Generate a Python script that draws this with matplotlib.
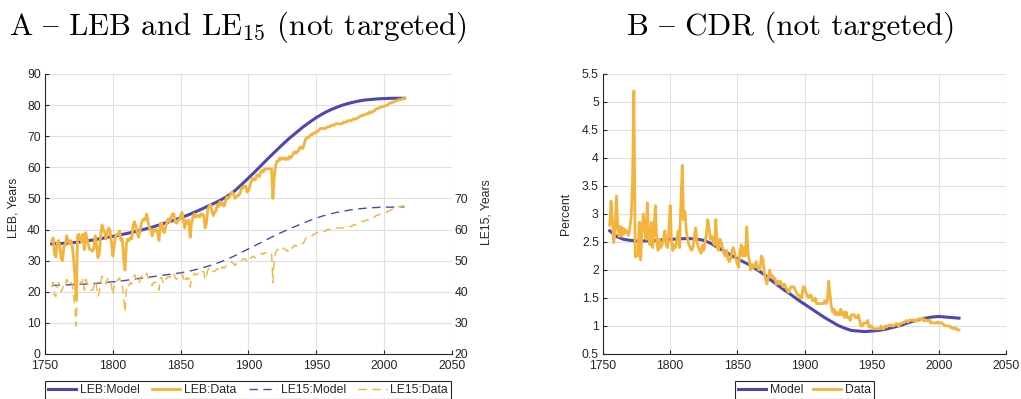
import numpy as np
import matplotlib
matplotlib.use('Agg')
import matplotlib.pyplot as plt
from matplotlib import font_manager, ft2font

plt.rcParams['font.family'] = ['Liberation Sans', 'DejaVu Sans']
plt.rcParams['mathtext.fontset'] = 'cm'

# ---------------- data ----------------
years = np.arange(1755, 2016)
model_years = np.arange(1755, 2016, 5)

leb_model = [35.4, 35.5, 35.6, 35.8, 36.0, 36.3, 36.6, 37.0, 37.4,
             37.8, 38.3, 38.7, 39.2, 39.7, 40.3, 40.9, 41.6, 42.3, 43.0,
             43.8, 44.6, 45.5, 46.5, 47.5, 48.5, 49.6, 50.9, 52.5, 54.5,
             56.6, 58.7, 60.9, 63.1, 65.2, 67.3, 69.3, 71.1, 72.9, 74.5,
             76.0, 77.3, 78.4, 79.3, 80.1, 80.7, 81.2, 81.6, 81.8, 82.0,
             82.1, 82.2, 82.2, 82.2]

leb_data = [36.2, 37.3, 32.0, 31.2, 35.5,
            36.5, 34.5, 30.5, 30.0, 35.0, 35.0, 38.0, 36.5, 35.5, 36.5,
            35.0, 31.0, 25.0, 17.3, 38.0, 38.5, 37.0, 36.0, 38.5, 33.5,
            39.0, 37.0, 35.0, 33.5, 33.5, 33.0, 34.0, 38.0, 35.0, 31.0,
            32.0, 38.0, 41.5, 40.0, 39.0, 37.0, 39.5, 40.5, 39.5, 36.0,
            31.5, 35.0, 38.0, 38.5, 38.5, 39.5, 36.5, 37.0, 30.5, 27.0,
            35.5, 37.0, 36.5, 37.5, 37.0, 41.5, 42.5, 41.0, 39.0, 37.5,
            39.5, 42.0, 43.0, 43.5, 43.0, 45.0, 42.5, 40.5, 40.0, 38.0,
            40.0, 39.5, 40.0, 39.0, 36.5, 42.0, 42.0, 39.5, 39.0, 41.0,
            42.5, 43.5, 42.5, 44.0, 45.0, 45.0, 42.5, 42.0, 43.0, 43.0,
            44.5, 45.5, 43.0, 40.5, 43.0, 42.0, 43.0, 37.5, 42.0, 44.0,
            45.0, 44.0, 44.5, 44.5, 44.0, 45.0, 45.0, 44.5, 40.5, 42.0,
            46.5, 47.5, 48.0, 46.0, 44.5, 45.5, 46.0, 48.0, 47.5, 49.0,
            48.0, 48.5, 47.5, 49.0, 50.5, 50.0, 50.5, 51.5, 52.0, 51.5,
            50.0, 50.5, 51.0, 51.0, 52.0, 53.5, 53.5, 54.0, 54.0, 52.0,
            52.5, 54.0, 55.5, 56.5, 56.0, 56.0, 57.5, 57.5, 57.0, 58.5,
            59.0, 58.5, 59.5, 59.5, 59.5, 59.5, 59.5, 59.5, 50.0, 57.0,
            60.5, 62.0, 62.0, 63.0, 62.5, 63.0, 63.0, 62.5, 63.0, 62.5,
            63.5, 63.0, 63.5, 64.5, 65.0, 64.5, 65.0, 65.5, 66.5, 66.5,
            66.0, 67.5, 69.0, 69.5, 69.5, 70.0, 70.5, 70.5, 71.0, 71.0,
            71.5, 71.5, 72.0, 72.5, 72.5, 72.5, 72.5, 72.5, 73.0, 73.0,
            73.0, 73.5, 73.5, 73.5, 74.0, 74.0, 74.0, 74.0, 74.0, 74.0,
            74.5, 74.5, 74.5, 75.0, 75.0, 75.0, 75.0, 75.5, 75.5, 75.5,
            75.8, 76.0, 76.3, 76.6, 76.8, 76.7, 77.0, 77.2, 77.1, 77.7,
            77.6, 77.7, 78.1, 78.2, 78.8, 78.9, 79.0, 79.3, 79.4, 79.5,
            79.7, 79.8, 79.9, 80.2, 80.6, 80.7, 80.9, 81.0, 81.3, 81.4,
            81.6, 81.8, 81.7, 81.9, 82.2, 82.1]

le15_model = [42.0, 42.1, 42.2, 42.3, 42.4, 42.5, 42.6, 42.8, 43.0,
              43.2, 43.4, 43.7, 44.0, 44.3, 44.6, 44.9, 45.2, 45.5, 45.8,
              46.1, 46.5, 47.0, 47.6, 48.2, 48.9, 49.7, 50.6, 51.6, 52.7,
              53.8, 54.9, 56.0, 57.1, 58.2, 59.2, 60.2, 61.1, 62.0, 62.9,
              63.7, 64.4, 65.0, 65.5, 65.9, 66.3, 66.6, 66.8, 67.0, 67.1,
              67.2, 67.2, 67.3, 67.3]

le15_data = [41.5, 43.0, 39.0, 38.5, 41.5,
             43.0, 42.0, 40.0, 41.0, 42.5, 42.0, 44.0, 43.0, 42.0, 43.0,
             42.5, 39.0, 35.0, 29.0, 43.5, 44.5, 43.0, 42.5, 44.0, 40.5,
             44.0, 43.0, 42.0, 41.0, 40.5, 40.5, 41.5, 43.5, 42.0, 38.5,
             39.5, 43.0, 45.0, 44.0, 43.5, 42.5, 44.0, 44.5, 44.0, 42.0,
             39.0, 41.5, 43.5, 43.5, 44.0, 44.5, 42.5, 42.5, 38.0, 33.5,
             41.0, 42.5, 42.0, 43.0, 42.5, 44.5, 45.5, 44.5, 43.5, 42.5,
             43.5, 45.0, 45.0, 45.5, 45.0, 46.0, 44.5, 43.5, 43.0, 42.0,
             43.0, 43.0, 43.0, 42.0, 40.5, 44.5, 44.5, 43.0, 42.5, 44.0,
             44.5, 45.0, 44.5, 45.5, 46.0, 46.0, 44.5, 44.0, 44.5, 44.5,
             45.5, 46.0, 44.5, 43.0, 44.5, 44.0, 44.5, 41.5, 44.0, 45.0,
             46.0, 45.5, 45.5, 46.0, 45.5, 46.0, 46.5, 46.5, 44.0, 45.0,
             47.0, 47.5, 48.0, 47.0, 46.5, 46.5, 47.0, 47.5, 47.0, 48.0,
             47.5, 48.0, 47.5, 48.0, 48.5, 48.5, 49.0, 49.5, 49.5, 49.0,
             48.5, 49.0, 49.0, 49.5, 49.5, 50.0, 50.5, 50.5, 50.5, 49.5,
             49.5, 50.5, 51.0, 51.5, 51.0, 51.0, 51.5, 51.5, 51.5, 52.0,
             52.5, 52.0, 52.5, 52.5, 52.5, 52.5, 52.5, 52.5, 43.0, 50.5,
             52.5, 53.5, 53.5, 54.0, 53.5, 54.0, 54.0, 53.5, 53.5, 53.0,
             54.0, 53.5, 54.0, 54.5, 55.0, 54.5, 55.0, 55.0, 55.5, 55.5,
             55.5, 56.0, 57.0, 57.5, 57.5, 58.0, 58.0, 58.0, 58.5, 58.5,
             59.0, 59.0, 59.5, 59.5, 59.5, 59.5, 59.5, 59.5, 60.0, 60.0,
             60.0, 60.0, 60.0, 60.0, 60.5, 60.5, 60.5, 60.5, 60.5, 60.5,
             60.5, 60.5, 61.0, 61.0, 61.0, 61.0, 61.0, 61.5, 61.5, 61.5,
             61.8, 62.0, 62.2, 62.5, 62.7, 62.6, 62.9, 63.1, 63.0, 63.5,
             63.4, 63.5, 63.9, 64.0, 64.5, 64.6, 64.7, 65.0, 65.1, 65.2,
             65.4, 65.5, 65.6, 65.9, 66.2, 66.3, 66.5, 66.6, 66.9, 67.0,
             67.2, 67.4, 67.3, 67.5, 67.6, 67.4]

cdr_model = [2.70, 2.60, 2.55, 2.53, 2.52, 2.52, 2.52, 2.53, 2.54,
             2.55, 2.55, 2.56, 2.56, 2.55, 2.53, 2.48, 2.41, 2.34, 2.27,
             2.20, 2.14, 2.08, 2.00, 1.92, 1.82, 1.73, 1.64, 1.56, 1.47,
             1.39, 1.31, 1.23, 1.15, 1.08, 1.01, 0.96, 0.92, 0.91, 0.90,
             0.91, 0.92, 0.94, 0.97, 1.00, 1.04, 1.08, 1.11, 1.14, 1.16,
             1.17, 1.16, 1.15, 1.14]

cdr_data = [2.80, 3.23, 2.90, 2.49, 2.70,
            3.32, 2.78, 2.60, 2.78, 2.60, 2.75, 2.65, 2.72, 2.68, 2.62,
            2.76, 2.95, 3.60, 5.20, 2.23, 2.30, 2.25, 2.85, 2.18, 2.70,
            3.00, 2.75, 2.55, 3.20, 2.55, 2.45, 2.85, 2.40, 2.75, 3.15,
            2.50, 2.35, 2.55, 2.40, 2.45, 2.55, 2.70, 2.45, 2.40, 2.70,
            3.15, 2.50, 2.35, 2.45, 2.40, 2.55, 2.70, 2.40, 3.20, 3.87,
            2.90, 3.05, 2.70, 2.55, 2.45, 2.40, 2.35, 2.40, 2.60, 2.75,
            2.50, 2.40, 2.35, 2.30, 2.45, 2.35, 2.50, 2.65, 2.90, 2.75,
            2.55, 2.60, 2.50, 2.45, 2.90, 2.40, 2.35, 2.55, 2.50, 2.40,
            2.30, 2.25, 2.35, 2.20, 2.15, 2.20, 2.35, 2.40, 2.30, 2.20,
            2.10, 2.05, 2.35, 2.45, 2.25, 2.40, 2.25, 2.77, 2.30, 2.15,
            2.00, 2.10, 2.05, 2.05, 2.15, 2.05, 2.00, 2.05, 2.25, 2.20,
            1.95, 1.85, 1.75, 1.85, 2.00, 1.90, 1.90, 1.85, 1.85, 1.75,
            1.80, 1.75, 1.80, 1.75, 1.70, 1.75, 1.70, 1.65, 1.60, 1.65,
            1.70, 1.70, 1.70, 1.65, 1.60, 1.55, 1.55, 1.50, 1.50, 1.70,
            1.70, 1.60, 1.55, 1.50, 1.55, 1.55, 1.45, 1.45, 1.50, 1.40,
            1.40, 1.40, 1.40, 1.40, 1.40, 1.45, 1.40, 1.45, 1.80, 1.55,
            1.35, 1.25, 1.30, 1.20, 1.25, 1.20, 1.20, 1.30, 1.20, 1.25,
            1.15, 1.25, 1.15, 1.15, 1.10, 1.20, 1.20, 1.20, 1.15, 1.15,
            1.20, 1.10, 1.00, 1.00, 1.05, 1.05, 1.05, 1.10, 0.98, 1.00,
            1.00, 0.95, 0.95, 0.95, 0.95, 0.95, 0.95, 1.00, 0.95, 0.95,
            1.00, 0.98, 1.00, 1.02, 1.00, 1.02, 1.00, 1.01, 1.04, 1.04,
            0.99, 1.04, 1.04, 1.06, 1.06, 1.08, 1.10, 1.07, 1.10, 1.11,
            1.10, 1.11, 1.09, 1.10, 1.09, 1.13, 1.12, 1.11, 1.15, 1.09,
            1.11, 1.10, 1.09, 1.11, 1.05, 1.06, 1.06, 1.05, 1.05, 1.07,
            1.05, 1.05, 1.06, 1.04, 1.01, 1.01, 1.00, 1.00, 1.00, 0.97,
            0.97, 0.95, 0.97, 0.95, 0.93, 0.93]

xticks = list(range(1750, 2051, 50))
leb_ticks = list(range(0, 91, 10))
le15_ticks = list(range(20, 71, 10))
cdr_ticks = [0.5, 1, 1.5, 2, 2.5, 3, 3.5, 4, 4.5, 5, 5.5]
cdr_ticklabels = ['0.5', '1', '1.5', '2', '2.5', '3', '3.5', '4', '4.5', '5', '5.5']

# ---------------- style ----------------
BLUE = '#4b48b4'
ORANGE = '#f4b43c'
TXT = '#262626'
GRID = '#e0e0e0'
FS = 8.8
W, H = 1021, 399


def find_cm_endash():
    """Locate the en-dash glyph in cmr10 by its shape (thin bar ~0.5 em)."""
    try:
        path = font_manager.findfont('cmr10')
        f = ft2font.FT2Font(path)
        f.set_size(100, 72)
        cmap = f.get_charmap()
        gx = f.load_char(ord('x'))
        xh = gx.bbox[3] - gx.bbox[1]
        best = None
        for code in sorted(cmap):
            g = f.load_char(code)
            w = g.bbox[2] - g.bbox[0]
            h = g.bbox[3] - g.bbox[1]
            if 0 < h < 0.2 * xh and 0.9 * xh < w < 1.45 * xh and g.bbox[1] > 0:
                if best is None or abs(w - 1.16 * xh) < best[0]:
                    best = (abs(w - 1.16 * xh), code)
        if best is not None:
            return chr(best[1])
    except Exception:
        pass
    return '-'


dash = find_cm_endash()

fig = plt.figure(figsize=(W / 100, H / 100), dpi=100)
axA = fig.add_axes([45 / W, 1 - 354 / H, 407 / W, 280 / H])
axB = fig.add_axes([603 / W, 1 - 354 / H, 403 / W, 280 / H])


def style(ax):
    ax.set_xlim(1750, 2050)
    ax.set_xticks(xticks)
    ax.grid(True, color=GRID, lw=0.8)
    ax.set_axisbelow(True)
    for s in ['top', 'right']:
        ax.spines[s].set_visible(False)
    for s in ['left', 'bottom']:
        ax.spines[s].set_color(TXT)
        ax.spines[s].set_linewidth(0.8)
    ax.tick_params(direction='in', length=3, width=0.8, colors=TXT,
                   labelsize=FS, pad=3)
    ax.tick_params(axis='x', pad=4.5)


# ---- Panel A ----
style(axA)
axA.set_ylim(0, 90)
axA.set_yticks(leb_ticks)
hA1, = axA.plot(model_years, leb_model, color=BLUE, lw=2.2, label='LEB:Model')
hA2, = axA.plot(years, leb_data, color=ORANGE, lw=2.0, label='LEB:Data')
axA.set_ylabel('LEB, Years', fontsize=FS, color=TXT)
axA.yaxis.set_label_coords(-0.062, 0.523)

axA2 = axA.twinx()
axA2.set_ylim(20, 110)
axA2.set_yticks(le15_ticks)
for s in axA2.spines.values():
    s.set_visible(False)
axA2.tick_params(axis='y', length=0, colors=TXT, labelsize=FS, pad=2)
hA3, = axA2.plot(model_years, le15_model, color=BLUE, lw=1.0,
                 dashes=(6, 4), label='LE15:Model')
hA4, = axA2.plot(years, le15_data, color=ORANGE, lw=1.0,
                 dashes=(6, 4), label='LE15:Data')
axA2.set_ylabel('LE15, Years', fontsize=FS, color=TXT)
axA2.yaxis.set_label_coords(1.069, 0.507)

legA = fig.legend([hA1, hA2, hA3, hA4],
                  ['LEB:Model', 'LEB:Data', 'LE15:Model', 'LE15:Data'],
                  loc='upper left', bbox_to_anchor=(45 / W, 0, 406 / W, 1 - 381 / H),
                  mode='expand', ncol=4, fontsize=FS, frameon=True,
                  fancybox=False, edgecolor=TXT, framealpha=1,
                  handlelength=2.3, borderaxespad=0, borderpad=0.25,
                  handletextpad=0.3, columnspacing=0.8)
legA.get_frame().set_linewidth(0.8)
for t in legA.get_texts():
    t.set_color(TXT)

# ---- Panel B ----
style(axB)
axB.set_ylim(0.5, 5.5)
axB.set_yticks(cdr_ticks)
axB.set_yticklabels(cdr_ticklabels)
hB1, = axB.plot(model_years, cdr_model, color=BLUE, lw=2.2, label='Model')
hB2, = axB.plot(years, cdr_data, color=ORANGE, lw=2.0, label='Data')
axB.set_ylabel('Percent', fontsize=FS, color=TXT)
axB.yaxis.set_label_coords(-0.077, 0.5)

legB = fig.legend([hB1, hB2], ['Model', 'Data'],
                  loc='upper center', bbox_to_anchor=((603 + 403 / 2) / W, 1 - 381 / H),
                  ncol=2, fontsize=FS, frameon=True, fancybox=False,
                  edgecolor=TXT, framealpha=1, handlelength=2.3,
                  borderaxespad=0, borderpad=0.25, handletextpad=0.3,
                  columnspacing=0.8)
legB.get_frame().set_linewidth(0.8)
for t in legB.get_texts():
    t.set_color(TXT)

# ---- Titles ----
title_fam = ['cmr10', 'DejaVu Serif']
fig.text(238 / W, 1 - 35 / H, 'A ' + dash + ' LEB and LE$_{15}$ (not targeted)',
         ha='center', va='baseline', fontsize=22.3, family=title_fam, color='black')
fig.text(791 / W, 1 - 35 / H, 'B ' + dash + ' CDR (not targeted)',
         ha='center', va='baseline', fontsize=22.3, family=title_fam, color='black')

fig.savefig('out.png', dpi=100)
